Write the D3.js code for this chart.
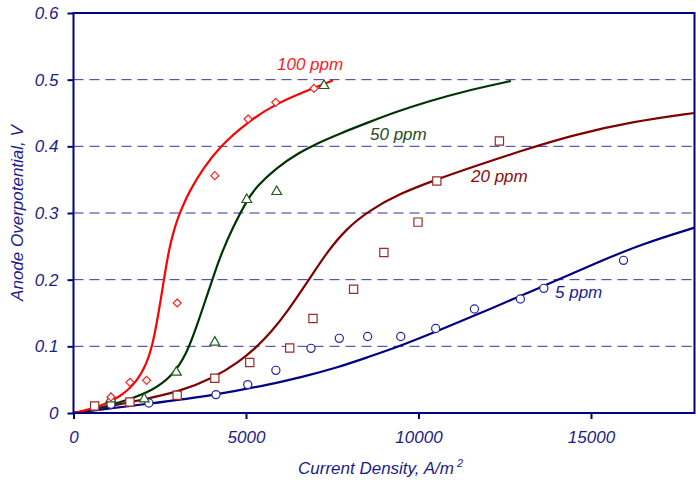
<!DOCTYPE html>
<html>
<head>
<meta charset="utf-8">
<script src="https://cdn.jsdelivr.net/npm/d3@7/dist/d3.min.js"></script>
<style>
  html, body { margin: 0; padding: 0; background: #ffffff; }
  svg { display: block; }
  text { font-family: "Liberation Sans", Arial, sans-serif; font-style: italic; }
</style>
</head>
<body>
<svg id="chart" width="696" height="482"></svg>
<script>
// Measured points, [current density (A/m²), anode overpotential (V)]
const obs100 = [[1085,0.024],[1635,0.046],[2118,0.049],[3005,0.165],[4096,0.356],[5060,0.441],[5862,0.466],[6971,0.487]];
const obs50  = [[1085,0.021],[2050,0.021],[2980,0.061],[4096,0.106],[5022,0.320],[5890,0.332],[7260,0.491]];
const obs20  = [[613,0.0105],[1635,0.0165],[3005,0.0266],[4096,0.052],[5109,0.0757],[6267,0.0976],[6942,0.1417],[8119,0.1857],[8997,0.2408],[9985,0.2863],[10531,0.348],[12345,0.408]];
const obs5   = [[1085,0.013],[2185,0.015],[4130,0.0276],[5050,0.0426],[5866,0.064],[6884,0.097],[7705,0.112],[8525,0.1147],[9485,0.1147],[10498,0.1267],[11622,0.156],[12953,0.171],[13633,0.187],[15943,0.229]];

// Model curves, [current density (A/m²), anode overpotential (V)]
const fit100 = [[0,0],[760,0.009],[1350,0.024],[1830,0.046],[2120,0.074],[2280,0.100],[2410,0.134],[2530,0.170],[2650,0.210],[2780,0.248],[2940,0.280],[3100,0.303],[3370,0.334],[3760,0.367],[4240,0.400],[5060,0.437],[5860,0.464],[6940,0.487],[7520,0.499]];
const fit50  = [[0,0],[770,0.007],[1540,0.019],[2310,0.034],[2890,0.057],[3280,0.089],[3565,0.129],[3855,0.174],[4050,0.204],[4290,0.240],[4630,0.280],[5030,0.319],[5300,0.3395],[5880,0.368],[6560,0.391],[7000,0.403],[7710,0.419],[8500,0.435],[9355,0.452],[10320,0.468],[11280,0.482],[12680,0.498]];
const fit20  = [[0,0],[950,0.009],[1915,0.019],[3070,0.032],[4040,0.052],[4810,0.077],[5290,0.098],[5740,0.122],[6200,0.152],[6800,0.198],[7330,0.240],[7900,0.276],[8580,0.304],[9450,0.329],[10510,0.350],[11570,0.369],[13020,0.394],[14470,0.417],[16200,0.437],[18000,0.450]];
const fit5   = [[0,0],[2200,0.014],[4130,0.027],[5780,0.044],[6560,0.053],[7700,0.069],[8490,0.083],[9450,0.100],[10510,0.122],[11570,0.145],[12930,0.175],[13790,0.194],[15140,0.225],[16500,0.254],[18000,0.278]];

const xTicks = [0, 5000, 10000, 15000];
const yTicks = [0, 0.1, 0.2, 0.3, 0.4, 0.5, 0.6];
const gridValues = [0.1, 0.2, 0.3, 0.4, 0.5];

const seriesLabels = ["100 ppm", "50 ppm", "20 ppm", "5 ppm"];

const navy = "#000080";
const textNavy = "#1c1c8c";

const svg = d3.select("#chart");
const x = d3.scaleLinear().domain([0, 18000]).range([73.5, 694.5]);
const y = d3.scaleLinear().domain([0, 0.6]).range([413, 13]);

// dashed horizontal grid
svg.append("g").selectAll("line").data(gridValues).join("line")
  .attr("x1", x(0)).attr("x2", x(18000))
  .attr("y1", d => y(d)).attr("y2", d => y(d))
  .attr("stroke", navy).attr("stroke-opacity", 0.8)
  .attr("stroke-width", 1).attr("stroke-dasharray", "10,6");

const series = [
  { fit: fit100, obs: obs100, line: "#ff0000", mark: "#ff2020", shape: "diamond", label: seriesLabels[0], lx: 277, ly: 70, lc: "#ff1a1a" },
  { fit: fit50,  obs: obs50,  line: "#003300", mark: "#1f5a1f", shape: "triangle", label: seriesLabels[1], lx: 370, ly: 140, lc: "#1e4d1e" },
  { fit: fit20,  obs: obs20,  line: "#800000", mark: "#9a2a2a", shape: "square", label: seriesLabels[2], lx: 471, ly: 182, lc: "#8b0a0a" },
  { fit: fit5,   obs: obs5,   line: "#000080", mark: "#2424a0", shape: "circle", label: seriesLabels[3], lx: 555, ly: 298, lc: "#1c1c8c" }
];

svg.append("defs").append("clipPath").attr("id", "plotClip")
  .append("rect").attr("x", x(0)).attr("y", y(0.6))
  .attr("width", x(18000) - x(0)).attr("height", y(0) - y(0.6));

// fitted curves, smoothed through the sampled values
const lineGen = d3.line().x(d => x(d[0])).y(d => y(d[1])).curve(d3.curveBasis);

const curves = svg.append("g").attr("clip-path", "url(#plotClip)");
curves.selectAll("path").data(series.slice().reverse()).join("path")
  .attr("d", d => lineGen(d.fit))
  .attr("fill", "none")
  .attr("stroke", d => d.line)
  .attr("stroke-width", 2.2);

// square-diamond marker (equal width and height)
const squareDiamond = {
  draw(ctx, size) {
    const r = Math.sqrt(size / 2);
    ctx.moveTo(0, -r); ctx.lineTo(r, 0); ctx.lineTo(0, r); ctx.lineTo(-r, 0); ctx.closePath();
  }
};

const symbolFor = {
  diamond: d3.symbol().type(squareDiamond).size(32),
  triangle: d3.symbol().type(d3.symbolTriangle).size(42),
  square: d3.symbol().type(d3.symbolSquare).size(68),
  circle: d3.symbol().type(d3.symbolCircle).size(52)
};

series.slice().reverse().forEach(s => {
  svg.append("g").selectAll("path").data(s.obs).join("path")
    .attr("transform", d => `translate(${x(d[0])},${y(d[1])})`)
    .attr("d", symbolFor[s.shape]())
    .attr("fill", "#ffffff")
    .attr("stroke", s.mark)
    .attr("stroke-width", 1.2);
});

// series labels
svg.append("g").selectAll("text").data(series).join("text")
  .attr("x", d => d.lx).attr("y", d => d.ly)
  .attr("fill", d => d.lc)
  .attr("font-size", 17)
  .text(d => d.label);

// frame
svg.append("rect")
  .attr("x", x(0)).attr("y", y(0.6))
  .attr("width", x(18000) - x(0)).attr("height", y(0) - y(0.6))
  .attr("fill", "none").attr("stroke", navy).attr("stroke-width", 2);

// axes
const fmtY = d => d === 0 ? "0" : d3.format(".1f")(d);
const yAxis = svg.append("g").attr("transform", `translate(${x(0)},0)`)
  .call(d3.axisLeft(y).tickValues(yTicks).tickFormat(fmtY).tickSize(6).tickPadding(9));
const xAxis = svg.append("g").attr("transform", `translate(0,${y(0)})`)
  .call(d3.axisBottom(x).tickValues(xTicks).tickFormat(d3.format("d")).tickSize(6).tickPadding(12));

[yAxis, xAxis].forEach(a => {
  a.select(".domain").remove();
  a.selectAll(".tick line").attr("stroke", navy).attr("stroke-width", 2);
  a.selectAll(".tick text")
    .attr("fill", textNavy)
    .attr("font-size", 17)
    .attr("font-family", "'Liberation Sans', Arial, sans-serif")
    .attr("font-style", "italic");
});

// axis titles
const xt = svg.append("text")
  .attr("x", 298).attr("y", 474)
  .attr("fill", textNavy).attr("font-size", 17);
xt.append("tspan").text("Current Density, A/m");
xt.append("tspan").attr("dy", -7).attr("dx", 3).attr("font-size", 11).text("2");

svg.append("text")
  .attr("transform", "translate(23,213) rotate(-90)")
  .attr("text-anchor", "middle")
  .attr("fill", textNavy).attr("font-size", 17)
  .text("Anode Overpotential, V");
</script>
</body>
</html>
